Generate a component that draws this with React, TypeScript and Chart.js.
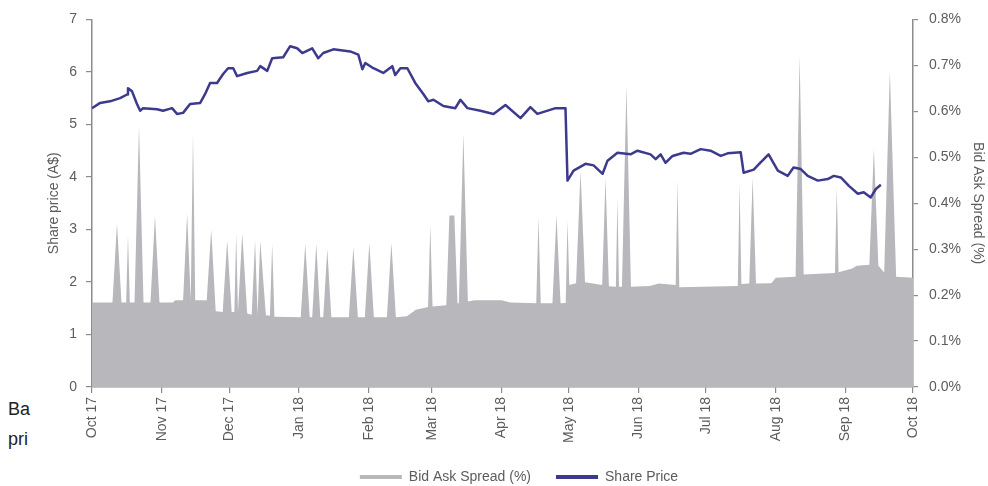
import React, { useEffect, useRef } from "react";
import { Chart, registerables } from "chart.js";

Chart.register(...registerables);

// Month ticks: days since 1 Oct 2017
const monthDays = [0, 31, 61, 92, 123, 151, 182, 212, 243, 273, 304, 335, 365];
const monthLabels = [
  "Oct 17", "Nov 17", "Dec 17", "Jan 18", "Feb 18", "Mar 18", "Apr 18",
  "May 18", "Jun 18", "Jul 18", "Aug 18", "Sep 18", "Oct 18",
];

// Bid ask spread (%) — day offset and value
const spreadDays = [
  0, 9.1, 11.1, 13.1, 15.2, 16.0, 16.8, 18.9, 20.9, 22.9, 26.0, 28.0, 30.0, 36.0, 37.0,
  40.5, 42.3, 43.9, 44.9, 45.9, 51.0, 53.0, 55.0, 58.1, 60.1, 62.1, 63.3, 64.1, 64.9,
  66.8, 69.0, 71.0, 72.5, 73.6, 74.8, 77.3, 79.1, 80.1, 81.1, 92.8, 94.8, 96.8, 97.9,
  99.7, 101.5, 102.8, 104.6, 106.4, 114.2, 116.2, 118.2, 121.3, 123.3, 125.3, 131.1,
  133.1, 135.1, 140.0, 144.0, 149.4, 150.4, 151.4, 157.5, 158.9, 161.1, 162.5, 163.1,
  165.1, 167.1, 170.0, 182.0, 186.0, 197.5, 198.5, 199.5, 204.7, 206.5, 208.3, 210.6,
  211.4, 212.2, 215.2, 217.2, 219.2, 226.8, 228.3, 229.8, 232.9, 233.6, 234.3, 235.6,
  237.6, 239.6, 248.0, 252.0, 259.5, 260.3, 261.1, 287.1, 287.9, 288.7, 292.2, 293.7,
  295.2, 302.0, 304.0, 312.8, 314.6, 316.4, 330.3, 331.1, 331.9, 338.0, 340.0, 345.6,
  347.6, 349.6, 352.2, 354.7, 357.5, 365,
];
const spreadPct = [
  0.184, 0.184, 0.356, 0.184, 0.184, 0.33, 0.184, 0.184, 0.568, 0.184, 0.184, 0.373, 0.184, 0.184, 0.189,
  0.189, 0.377, 0.189, 0.553, 0.189, 0.189, 0.343, 0.165, 0.163, 0.319, 0.163, 0.163, 0.334, 0.163,
  0.334, 0.16, 0.157, 0.319, 0.156, 0.319, 0.156, 0.155, 0.312, 0.153, 0.152, 0.312, 0.152, 0.152,
  0.312, 0.152, 0.152, 0.3, 0.152, 0.152, 0.304, 0.152, 0.152, 0.314, 0.152, 0.152,
  0.314, 0.152, 0.154, 0.168, 0.174, 0.351, 0.175, 0.178, 0.373, 0.373, 0.182, 0.182,
  0.551, 0.186, 0.189, 0.189, 0.184, 0.182, 0.369, 0.182, 0.182, 0.373, 0.182, 0.183,
  0.362, 0.222, 0.226, 0.47, 0.228, 0.222, 0.455, 0.219, 0.218, 0.41, 0.218, 0.218,
  0.655, 0.218, 0.22, 0.225, 0.222, 0.449, 0.217, 0.22, 0.442, 0.224, 0.225, 0.455,
  0.225, 0.226, 0.238, 0.24, 0.72, 0.245, 0.248, 0.434, 0.25, 0.258, 0.264, 0.266,
  0.518, 0.264, 0.249, 0.687, 0.24, 0.238,
];

// Share price (A$) — day offset and value
const priceDays = [
  0, 3.6, 8.0, 12.5, 15.6, 16.0, 17.8, 20.0, 21.4, 22.7, 28.9, 31.6, 35.6, 37.8, 40.5,
  43.6, 48.1, 50.3, 52.5, 55.6, 58.3, 60.5, 62.8, 64.5, 69.0, 73.4, 74.8, 77.9, 80.1,
  85.0, 88.1, 91.2, 93.5, 97.9, 100.6, 102.8, 107.3, 114.8, 118.4, 120.2, 121.5, 125.1,
  129.5, 133.5, 134.8, 137.1, 140.2, 143.7, 147.3, 149.5, 151.8, 156.2, 161.5, 163.8,
  166.9, 172.7, 178.5, 183.8, 190.5, 194.9, 198.0, 206.1, 210.5, 211.4, 214.1, 219.4,
  223.0, 227.0, 229.2, 233.6, 239.4, 242.5, 248.3, 250.6, 252.8, 255.0, 258.1, 263.0,
  266.1, 270.6, 275.0, 279.5, 282.6, 288.4, 289.7, 294.2, 296.4, 300.8, 304.9, 309.3,
  311.9, 315.1, 318.2, 322.7, 327.1, 329.8, 332.9, 336.5, 340.5, 343.1, 346.2, 348.5, 350.7,
];
const priceVals = [
  5.31, 5.41, 5.44, 5.5, 5.57, 5.69, 5.63, 5.39, 5.26, 5.31, 5.29, 5.26, 5.31, 5.2, 5.22,
  5.39, 5.41, 5.58, 5.79, 5.79, 5.96, 6.07, 6.07, 5.92, 5.98, 6.02, 6.11, 6.02, 6.26,
  6.28, 6.49, 6.45, 6.36, 6.45, 6.26, 6.36, 6.43, 6.39, 6.33, 6.05, 6.17, 6.07,
  5.98, 6.11, 5.94, 6.07, 6.07, 5.79, 5.58, 5.44, 5.47, 5.35, 5.31, 5.47,
  5.31, 5.26, 5.2, 5.37, 5.12, 5.33, 5.2, 5.31, 5.31, 3.93, 4.12, 4.25,
  4.22, 4.06, 4.31, 4.46, 4.43, 4.5, 4.43, 4.34, 4.43, 4.27, 4.4, 4.46,
  4.44, 4.53, 4.5, 4.4, 4.45, 4.47, 4.08, 4.14, 4.24, 4.43, 4.12, 4.02,
  4.18, 4.15, 4.02, 3.93, 3.96, 4.02, 3.99, 3.83, 3.68, 3.71, 3.61, 3.77, 3.85,
];

const FONT = { family: "'Liberation Sans', Arial, sans-serif", size: 14 };
const TEXT = "#5c5c5c";
const AXIS = "#8c8c8c";
const GREY = "#b7b7bc";
const NAVY = "#3d3a8e";

export default function App() {
  const ref = useRef<HTMLCanvasElement | null>(null);

  useEffect(() => {
    if (!ref.current) return;
    const chart = new Chart(ref.current, {
      type: "line",
      data: {
        datasets: [
          {
            label: "Bid Ask Spread (%)",
            data: spreadDays.map((d, i) => ({ x: d, y: spreadPct[i] })),
            yAxisID: "y1",
            fill: "origin",
            backgroundColor: GREY,
            borderColor: "rgba(0,0,0,0)",
            borderWidth: 0,
            pointRadius: 0,
            tension: 0,
            order: 2,
          },
          {
            label: "Share Price",
            data: priceDays.map((d, i) => ({ x: d, y: priceVals[i] })),
            yAxisID: "y",
            fill: false,
            backgroundColor: NAVY,
            borderColor: NAVY,
            borderWidth: 2.5,
            borderJoinStyle: "round",
            pointRadius: 0,
            tension: 0,
            order: 1,
          },
        ],
      },
      options: {
        responsive: false,
        animation: false,
        devicePixelRatio: 1,
        layout: { padding: { left: 50, right: 0, top: 18, bottom: -8 } },
        plugins: {
          tooltip: { enabled: false },
          legend: {
            position: "bottom",
            reverse: true,
            labels: {
              boxWidth: 42,
              boxHeight: 4,
              padding: 25,
              font: FONT,
              color: TEXT,
              generateLabels: (c: any) => {
                const items = (Chart.defaults as any).plugins.legend.labels.generateLabels(c);
                items.forEach((it: any) => {
                  it.lineWidth = 0;
                  it.strokeStyle = "rgba(0,0,0,0)";
                });
                return items;
              },
            },
          },
        },
        scales: {
          x: {
            type: "linear",
            min: 0,
            max: 365,
            afterBuildTicks: (s: any) => {
              s.ticks = monthDays.map((v) => ({ value: v }));
            },
            afterFit: (s: any) => {
              s.height = 58;
            },
            ticks: {
              autoSkip: false,
              minRotation: 90,
              maxRotation: 90,
              padding: 4,
              font: FONT,
              color: TEXT,
              callback: (v: any) => {
                const i = monthDays.indexOf(Number(v));
                return i >= 0 ? monthLabels[i] : "";
              },
            },
            grid: { drawOnChartArea: false, drawTicks: true, tickLength: 6, color: AXIS, lineWidth: 1.2 },
            border: { display: true, color: AXIS, width: 1.5 },
          },
          y: {
            position: "left",
            min: 0,
            max: 7,
            afterFit: (s: any) => {
              s.width = 42;
            },
            ticks: { stepSize: 1, padding: 9, font: FONT, color: TEXT },
            grid: { drawOnChartArea: false, drawTicks: true, tickLength: 6, color: AXIS, lineWidth: 1.2 },
            border: { display: true, color: AXIS, width: 1.5 },
            title: {
              display: true,
              text: "Share price (A$)",
              font: FONT,
              color: TEXT,
              padding: { top: -4, bottom: 0 },
            },
          },
          y1: {
            position: "right",
            min: 0,
            max: 0.8,
            afterFit: (s: any) => {
              s.width = 75;
            },
            ticks: {
              stepSize: 0.1,
              padding: 11,
              font: FONT,
              color: TEXT,
              callback: (v: any) => Number(v).toFixed(1) + "%",
            },
            grid: { drawOnChartArea: false, drawTicks: true, tickLength: 5, color: AXIS, lineWidth: 1.2 },
            border: { display: true, color: AXIS, width: 1.5 },
            title: {
              display: true,
              text: "Bid Ask Spread (%)",
              font: FONT,
              color: TEXT,
              padding: { top: 2, bottom: 0 },
            },
          },
        },
      } as any,
    });
    return () => chart.destroy();
  }, []);

  const sideText: React.CSSProperties = {
    position: "absolute",
    left: 8,
    fontFamily: "'Liberation Sans', Arial, sans-serif",
    fontSize: 18,
    color: "#222",
    lineHeight: "20px",
    whiteSpace: "nowrap",
  };

  return (
    <div style={{ position: "fixed", left: 0, top: 0, width: 988, height: 486, background: "#fff" }}>
      <span style={{ ...sideText, top: 399 }}>Ba</span>
      <span style={{ ...sideText, top: 429 }}>pri</span>
      <canvas ref={ref} width={988} height={486} style={{ position: "absolute", left: 0, top: 0 }} />
    </div>
  );
}
